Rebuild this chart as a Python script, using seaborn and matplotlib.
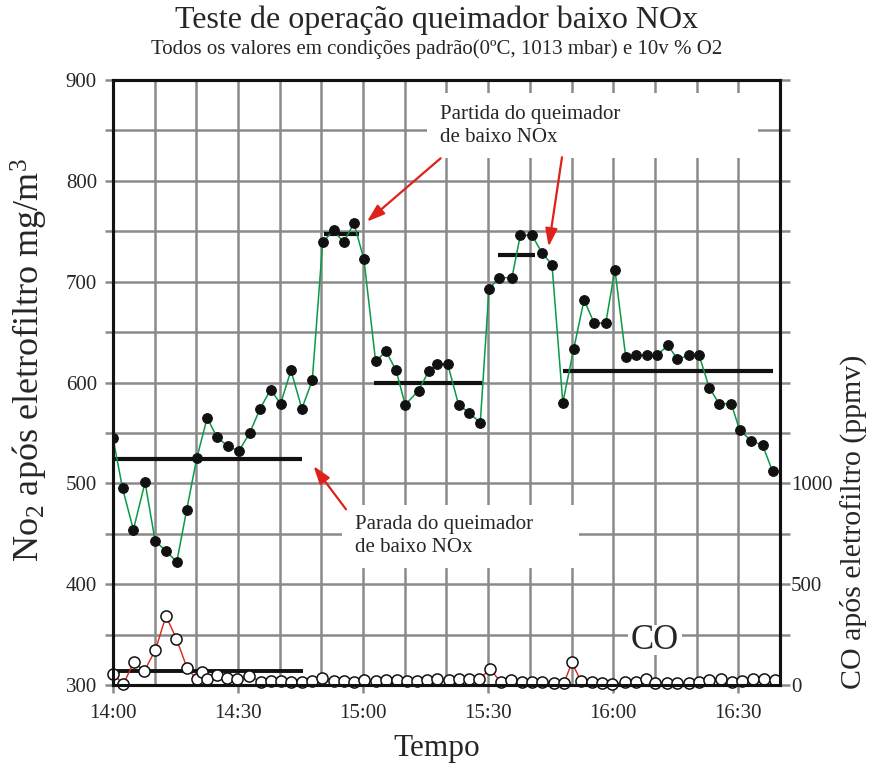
import matplotlib
matplotlib.use("Agg")
import matplotlib.pyplot as plt
import seaborn as sns
from matplotlib.ticker import MultipleLocator
from matplotlib.patches import Rectangle


# Data (minutes after 14:00)

no2_minutes = [0, 2.3, 4.9, 7.7, 10.1, 12.7, 15.3, 17.7, 20.1, 22.6,
               24.9, 27.5, 30.2, 32.8, 35.3, 37.8, 40.2, 42.7, 45.3, 47.8,
               50.3, 52.9, 55.3, 57.8, 60.2, 63, 65.5, 67.9, 70.1, 73.3,
               75.7, 77.8, 80.3, 82.9, 85.4, 88.1, 90.2, 92.7, 95.7, 97.7,
               100.5, 103, 105.3, 107.9, 110.5, 113, 115.4, 118.2, 120.4, 123,
               125.5, 128.2, 130.5, 133.1, 135.4, 138.1, 140.6, 143, 145.4, 148.3,
               150.3, 153.1, 155.8, 158.2]

no2_values = [545, 495, 454, 501, 443, 433, 422, 474, 525, 565,
              546, 537, 532, 550, 574, 593, 579, 612, 574, 602,
              739, 751, 739, 758, 722, 621, 631, 612, 578, 592,
              611, 618, 618, 578, 570, 560, 693, 704, 704, 746,
              746, 728, 717, 580, 633, 682, 659, 659, 712, 625,
              627, 627, 627, 637, 623, 627, 627, 595, 579, 579,
              553, 542, 538, 512]

co_minutes = [0.1, 2.5, 5.0, 7.5, 10.2, 12.7, 15.2, 17.8, 20.1, 21.4,
              22.6, 25.0, 27.4, 29.8, 32.7, 35.4, 37.8, 40.2, 42.6, 45.3,
              47.8, 50.2, 52.9, 55.3, 57.7, 60.2, 63.0, 65.5, 68.1, 70.6,
              72.9, 75.3, 77.8, 80.6, 83.1, 85.5, 87.9, 90.5, 93.0, 95.5,
              98.1, 100.6, 102.8, 105.7, 108.2, 110.1, 112.2, 115.0, 117.4, 119.8,
              122.9, 125.4, 127.8, 130.1, 132.9, 135.4, 138.1, 140.5, 143.0, 145.9,
              148.5, 150.9, 153.4, 156.1, 158.7]

co_values = [54, 4, 114, 69, 174, 342, 230, 83, 28, 65,
             30, 48, 36, 28, 46, 16, 20, 20, 16, 16,
             20, 36, 20, 20, 16, 25, 18, 25, 23, 20,
             18, 25, 28, 25, 31, 31, 31, 78, 15, 25,
             13, 16, 16, 11, 11, 112, 20, 15, 8, 3,
             15, 15, 28, 11, 11, 8, 8, 16, 25, 31,
             16, 20, 31, 31, 25]

# Period averages
no2_mean = [524, 747, 600, 726, 611]
no2_mean_start = [0, 50.6, 62.6, 92.3, 107.9]
no2_mean_end = [45.4, 58.9, 88.5, 101.3, 158.3]

co_mean = [71]
co_mean_start = [0]
co_mean_end = [45.5]

tick_minutes = [0, 30, 60, 90, 120, 150]
tick_labels = ["14:00", "14:30", "15:00", "15:30", "16:00", "16:30"]


# Style

sns.set_theme(style="white")
plt.rcParams["font.family"] = ["Liberation Serif", "DejaVu Serif"]
plt.rcParams["mathtext.fontset"] = "custom"
plt.rcParams["mathtext.rm"] = "Liberation Serif"
plt.rcParams["mathtext.it"] = "Liberation Serif:italic"

grid_col = "#8a8a8a"
red = "#e0201b"

fig = plt.figure(figsize=(8.73, 7.68), dpi=100)
ax = fig.add_axes([0.1294, 0.1081, 0.7641, 0.7877])
ax2 = ax.twinx()

# NO2 series
sns.lineplot(
    x=no2_minutes, y=no2_values, ax=ax, color="#0a9a45", linewidth=1.1,
    marker="o", markersize=7, markerfacecolor="#111111",
    markeredgecolor="#111111", sort=False, zorder=4
)

# CO series
sns.lineplot(
    x=co_minutes, y=co_values, ax=ax2, color=red, linewidth=1.0,
    marker="o", markersize=8, markerfacecolor="white",
    markeredgecolor="#111111", markeredgewidth=1.1, sort=False,
    zorder=4, clip_on=False
)

ax.hlines(no2_mean, no2_mean_start, no2_mean_end, color="#111111",
          linewidth=3, zorder=3)
ax2.hlines(co_mean, co_mean_start, co_mean_end, color="#111111",
           linewidth=2.8, zorder=3)

# Axes
ax.set_xlim(0, 160)
ax.set_ylim(300, 900)
ax2.set_ylim(0, 3000)

ax.set_xticks(tick_minutes)
ax.set_xticklabels(tick_labels)
ax.xaxis.set_minor_locator(MultipleLocator(10))
ax.set_yticks(range(300, 901, 100))
ax.yaxis.set_minor_locator(MultipleLocator(50))

ax2.set_yticks([0, 500, 1000])
ax2.yaxis.set_minor_locator(MultipleLocator(250))

ax.set_axisbelow(True)
ax.grid(True, which="both", color=grid_col, linewidth=1.8)

ax.tick_params(axis="x", which="major", length=6, width=1.8, color=grid_col,
               labelsize=15, pad=8, bottom=True)
ax.tick_params(axis="x", which="minor", length=0, bottom=True)
ax.tick_params(axis="y", which="both", length=5.5, width=1.8, color=grid_col,
               labelsize=15, pad=6, left=True)
ax2.tick_params(axis="y", which="both", length=7, width=1.8, color=grid_col,
                labelsize=15, pad=1, right=True)

for a in (ax, ax2):
    for s in a.spines.values():
        s.set_color("#111111")
        s.set_linewidth(2.2)
        s.set_zorder(5)

ax.set_xlabel("")
ax.set_ylabel("")
ax2.set_ylabel("")

# Annotation boxes
box_style = dict(facecolor="white", edgecolor="none", zorder=2.5)
ax.add_patch(Rectangle((75.4, 822.7), 79.4, 64.5, **box_style))
ax.add_patch(Rectangle((55.0, 416.0), 56.8, 62.5, **box_style))
ax.add_patch(Rectangle((123.6, 329.8), 13.0, 29.7, **box_style))

ax.text(78.5, 854.5, "Partida do queimador\nde baixo NOx", fontsize=15,
        ha="left", va="center", linespacing=1.28, zorder=3)
ax.text(58.1, 447.5, "Parada do queimador\nde baixo NOx", fontsize=15,
        ha="left", va="center", linespacing=1.28, zorder=3)
ax.text(130.0, 344.6, "CO", fontsize=25, ha="center", va="center", zorder=3)

arrow = dict(arrowstyle="-|>,head_length=0.9,head_width=0.3", color=red,
             lw=1.6, shrinkA=0, shrinkB=0)
ax.annotate("", xy=(60.9, 759.5), xytext=(78.6, 822.4), arrowprops=arrow, zorder=4)
ax.annotate("", xy=(104.5, 734.7), xytext=(107.7, 823.4), arrowprops=arrow, zorder=4)
ax.annotate("", xy=(48.1, 517.2), xytext=(55.9, 474.2), arrowprops=arrow, zorder=4)

# Titles and labels
fig.text(0.5006, 0.974, "Teste de operação queimador baixo NOx",
         fontsize=23, ha="center", va="center")
fig.text(0.5006, 0.936,
         "Todos os valores em condições padrão(0ºC, 1013 mbar) e 10v % O2",
         fontsize=15, ha="center", va="center")
fig.text(0.034, 0.531, r"No$_\mathrm{2}$ após eletrofiltro mg/m$^\mathrm{3}$",
         fontsize=26, rotation=90, ha="center", va="center")
fig.text(0.978, 0.32, "CO após eletrofiltro (ppmv)",
         fontsize=21.5, rotation=90, ha="center", va="center")
fig.text(0.5006, 0.026, "Tempo", fontsize=22.5, ha="center", va="center")

fig.savefig("out.png", dpi=100)
